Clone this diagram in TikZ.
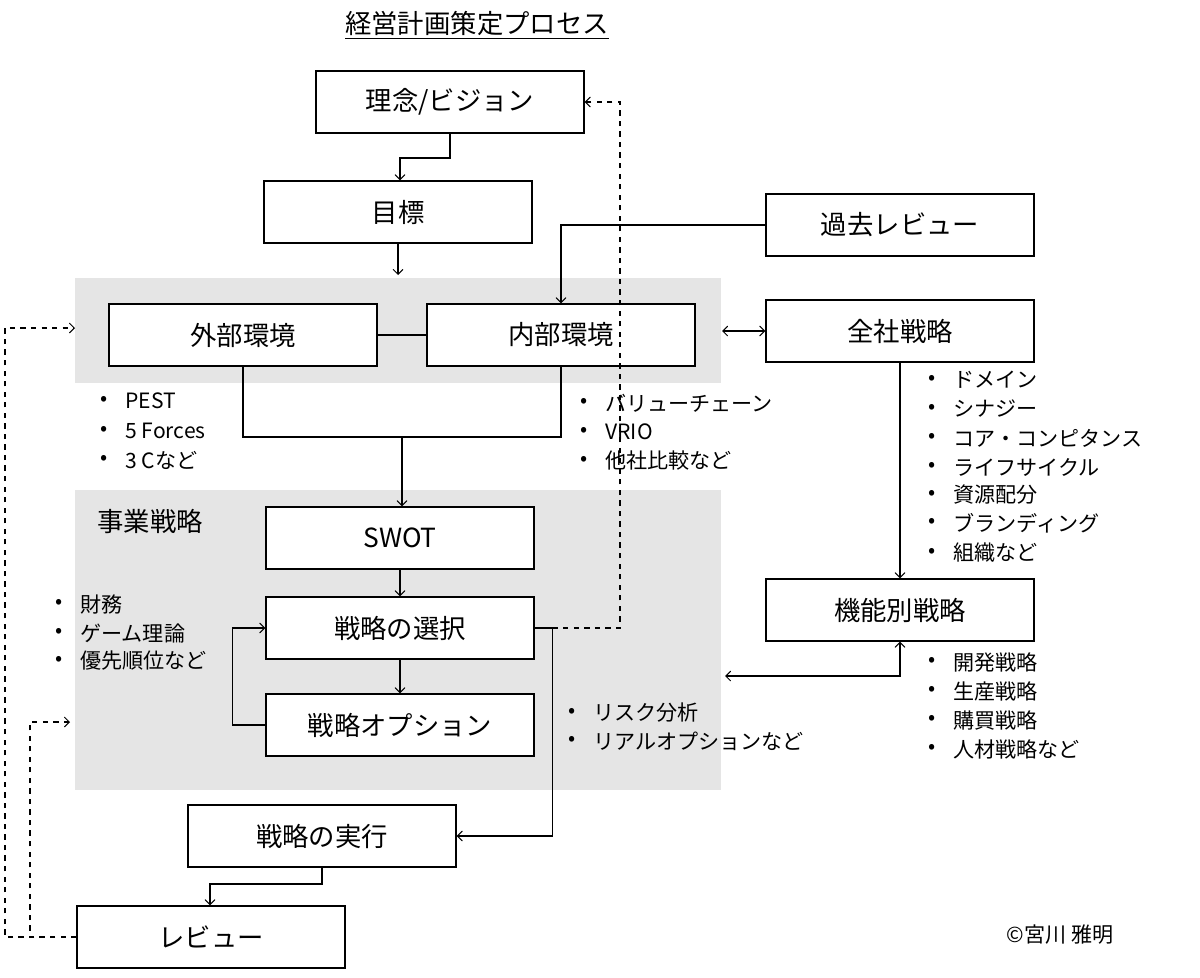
\documentclass[tikz,border=0pt]{standalone}
\usepackage{fontspec}
\setmainfont{Noto Sans CJK JP}
\usetikzlibrary{positioning, arrows}
\tikzset{
  box/.style={draw, thick, fill=white, minimum width=5.36cm, minimum height=1.24cm, font=\fontsize{15}{18}\selectfont, inner sep=0pt},
  zone/.style={fill=black!10, draw=none},
  blist/.style={anchor=west, font=\fontsize{12}{14}\selectfont, inner sep=0pt},
  line/.style={semithick},
  arr/.style={semithick, -angle 90},
  darr/.style={semithick, dashed, -angle 90}
}
\newcommand{\bl}[4]{% x, y, name, text
  \node[blist] (#3b) at (#1,#2) {•};
  \node[blist] (#3) at ([xshift=0.5cm]#3b.west) {#4};
}
\begin{document}
\begin{tikzpicture}[x=0.02cm, y=-0.02cm]
  \useasboundingbox (0,0) rectangle (1200,977);
  % gray regions
  \fill[zone] (75,278) rectangle (721,383);
  \fill[zone] (75,490) rectangle (721,790);
  \node[font=\fontsize{15}{18}\selectfont] (title) at (477,25) {\underline{経営計画策定プロセス}};
  \node[font=\fontsize{15}{18}\selectfont] (biz) at (150,521) {事業戦略};
  % boxes
  \node[box] (vision) at (450,102) {理念/ビジョン};
  \node[box] (goal) at (398,212) {目標};
  \node[box] (past) at (900,225) {過去レビュー};
  \node[box] (ext) at (243,335) {外部環境};
  \node[box] (int) at (561,335) {内部環境};
  \node[box] (corp) at (900,331) {全社戦略};
  \node[box] (swot) at (400,538) {SWOT};
  \node[box] (select) at (400,628) {戦略の選択};
  \node[box] (option) at (400,725) {戦略オプション};
  \node[box] (func) at (900,610) {機能別戦略};
  \node[box] (exec) at (322,836) {戦略の実行};
  \node[box] (review) at (211,937) {レビュー};
  \node[font=\fontsize{12}{14}\selectfont] (copy) at (1060,935) {©宮川 雅明};
  % helper coordinates
  \coordinate (zone1top) at (398,275);
  \coordinate (zone1r) at (722,331);
  \coordinate (zone1l) at (75,328);
  \coordinate (zone2l) at (70,722);
  \coordinate (funcl) at (725,676);
  \coordinate (join) at (402,437);
  % connectors
  \draw[arr] (vision.south -| 450,0) |- (400,158) -- (goal.north -| 400,0);
  \draw[arr] (goal.south) -- (zone1top);
  \draw[arr] (past.west) -| (int.north);
  \draw[line] (ext) -- (int);
  \draw[line] (ext.south) |- (join) -| (int.south);
  \draw[arr] (join) -- (swot.north -| join);
  \draw[arr, angle 90-angle 90] (zone1r) -- (corp.west);
  \draw[arr] (corp.south) -- (func.north);
  \draw[arr, angle 90-angle 90] (funcl) -| (func.south);
  \draw[arr] (swot.south) -- (select.north);
  \draw[arr] (select.south) -- (option.north);
  \draw[arr] (option.west) -- ++(-33,0) |- (select.west);
  \draw[arr] (select.east) -- ++(18,0) |- (exec.east);
  \draw[darr] (select.east) ++(18,0) -- (620,628) |- (vision.east);
  \draw[arr] (exec.south) |- (210,884) -- (review.north -| 210,0);
  \draw[darr] (review.west) -- (5,937) |- (zone1l);
  \draw[darr] (review.west) -- (30,937) |- (zone2l);
  % bullet lists
  \bl{100}{401}{pa}{PEST}
  \bl{100}{431}{pb}{5 Forces}
  \bl{100}{460}{pc}{3 Cなど}
  \bl{580}{403}{va}{バリューチェーン}
  \bl{580}{432}{vb}{VRIO}
  \bl{580}{461}{vc}{他社比較など}
  \bl{928}{380}{ca}{ドメイン}
  \bl{928}{409}{cb}{シナジー}
  \bl{928}{438}{cc}{コア・コンピタンス}
  \bl{928}{467}{cd}{ライフサイクル}
  \bl{928}{495}{ce}{資源配分}
  \bl{928}{523}{cf}{ブランディング}
  \bl{928}{553}{cg}{組織など}
  \bl{55}{604}{fa}{財務}
  \bl{55}{633}{fb}{ゲーム理論}
  \bl{55}{661}{fc}{優先順位など}
  \bl{568}{713}{ra}{リスク分析}
  \bl{568}{741}{rb}{リアルオプションなど}
  \bl{928}{662}{ka}{開発戦略}
  \bl{928}{691}{kb}{生産戦略}
  \bl{928}{720}{kc}{購買戦略}
  \bl{928}{749}{kd}{人材戦略など}
\end{tikzpicture}
\end{document}
